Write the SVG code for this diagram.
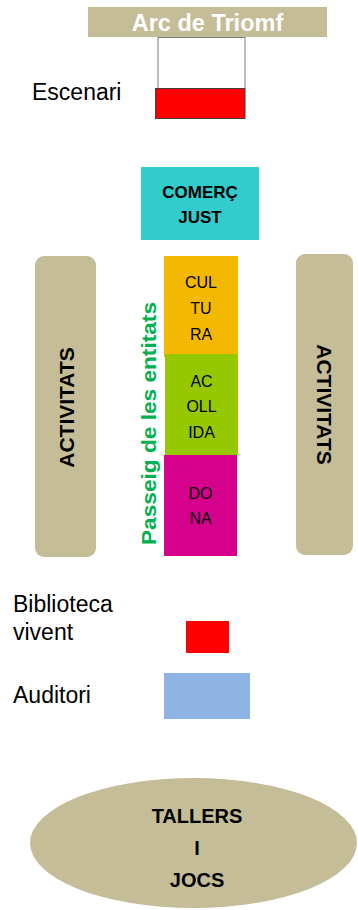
<svg xmlns="http://www.w3.org/2000/svg" width="358" height="910" viewBox="0 0 358 910">
<style>
text{font-family:"Liberation Sans",Arial,sans-serif;fill:#000}
.b{font-weight:bold}
.tan{fill:#C4BD97}
.lbl{font-size:23px}
.box{font-size:16px;text-anchor:middle}
</style>
<rect width="358" height="910" fill="#fff"/>
<g id="arc">
<rect x="88" y="7" width="239" height="30" class="tan"/>
<text x="207.5" y="31" class="b" font-size="23.5" text-anchor="middle" style="fill:#fff">Arc de Triomf</text>
</g>
<g id="escenari">
<rect x="158" y="37.5" width="87" height="51" fill="#fff" stroke="#7f7f7f" stroke-width="1"/>
<rect x="155.5" y="88.5" width="89.5" height="30" fill="#FF0000" stroke="#404040" stroke-width="1"/>
<text x="32" y="100" class="lbl">Escenari</text>
</g>
<g id="comerc">
<rect x="141" y="167" width="118" height="73" fill="#33CCCC"/>
<text x="200" y="198" class="b" font-size="17" text-anchor="middle">COMERÇ</text>
<text x="200" y="223" class="b" font-size="17" text-anchor="middle">JUST</text>
</g>
<g id="activitats-left">
<rect x="35" y="256" width="61" height="301" rx="9" class="tan"/>
<text transform="translate(74,407.5) rotate(-90)" class="b" font-size="21" text-anchor="middle">ACTIVITATS</text>
</g>
<g id="activitats-right">
<rect x="296" y="254" width="57" height="301" rx="9" class="tan"/>
<text transform="translate(317,404.5) rotate(90)" class="b" font-size="21" text-anchor="middle">ACTIVITATS</text>
</g>
<g id="cultura">
<rect x="164" y="256" width="74" height="101" fill="#F5B800"/>
<text x="201" y="288" class="box">CUL</text>
<text x="201" y="314" class="box">TU</text>
<text x="201" y="340" class="box">RA</text>
</g>
<g id="acollida">
<rect x="165" y="354" width="73" height="101" fill="#96C800"/>
<text x="201.5" y="387" class="box">AC</text>
<text x="201.5" y="412" class="box">OLL</text>
<text x="201.5" y="438" class="box">IDA</text>
</g>
<g id="dona">
<rect x="164" y="455" width="73" height="101" fill="#D5008C"/>
<text x="200.5" y="499" class="box">DO</text>
<text x="200.5" y="524" class="box">NA</text>
</g>
<g id="passeig">
<text transform="translate(156,423.5) rotate(-90)" class="b" font-size="21" text-anchor="middle" textLength="243" lengthAdjust="spacingAndGlyphs" style="fill:#00B050">Passeig de les entitats</text>
</g>
<g id="biblioteca">
<text x="13" y="612" class="lbl">Biblioteca</text>
<text x="13" y="640" class="lbl">vivent</text>
<rect x="186" y="621" width="43" height="32" fill="#FF0000"/>
</g>
<g id="auditori">
<text x="13" y="703" class="lbl">Auditori</text>
<rect x="164" y="673" width="86" height="46" fill="#8EB4E3"/>
</g>
<g id="tallers">
<ellipse cx="193.5" cy="843" rx="163.5" ry="65" class="tan"/>
<text x="197" y="823" class="b" font-size="20" text-anchor="middle">TALLERS</text>
<text x="197" y="855" class="b" font-size="20" text-anchor="middle">I</text>
<text x="197" y="887" class="b" font-size="20" text-anchor="middle">JOCS</text>
</g>
<g id="connectors"/>
</svg>
